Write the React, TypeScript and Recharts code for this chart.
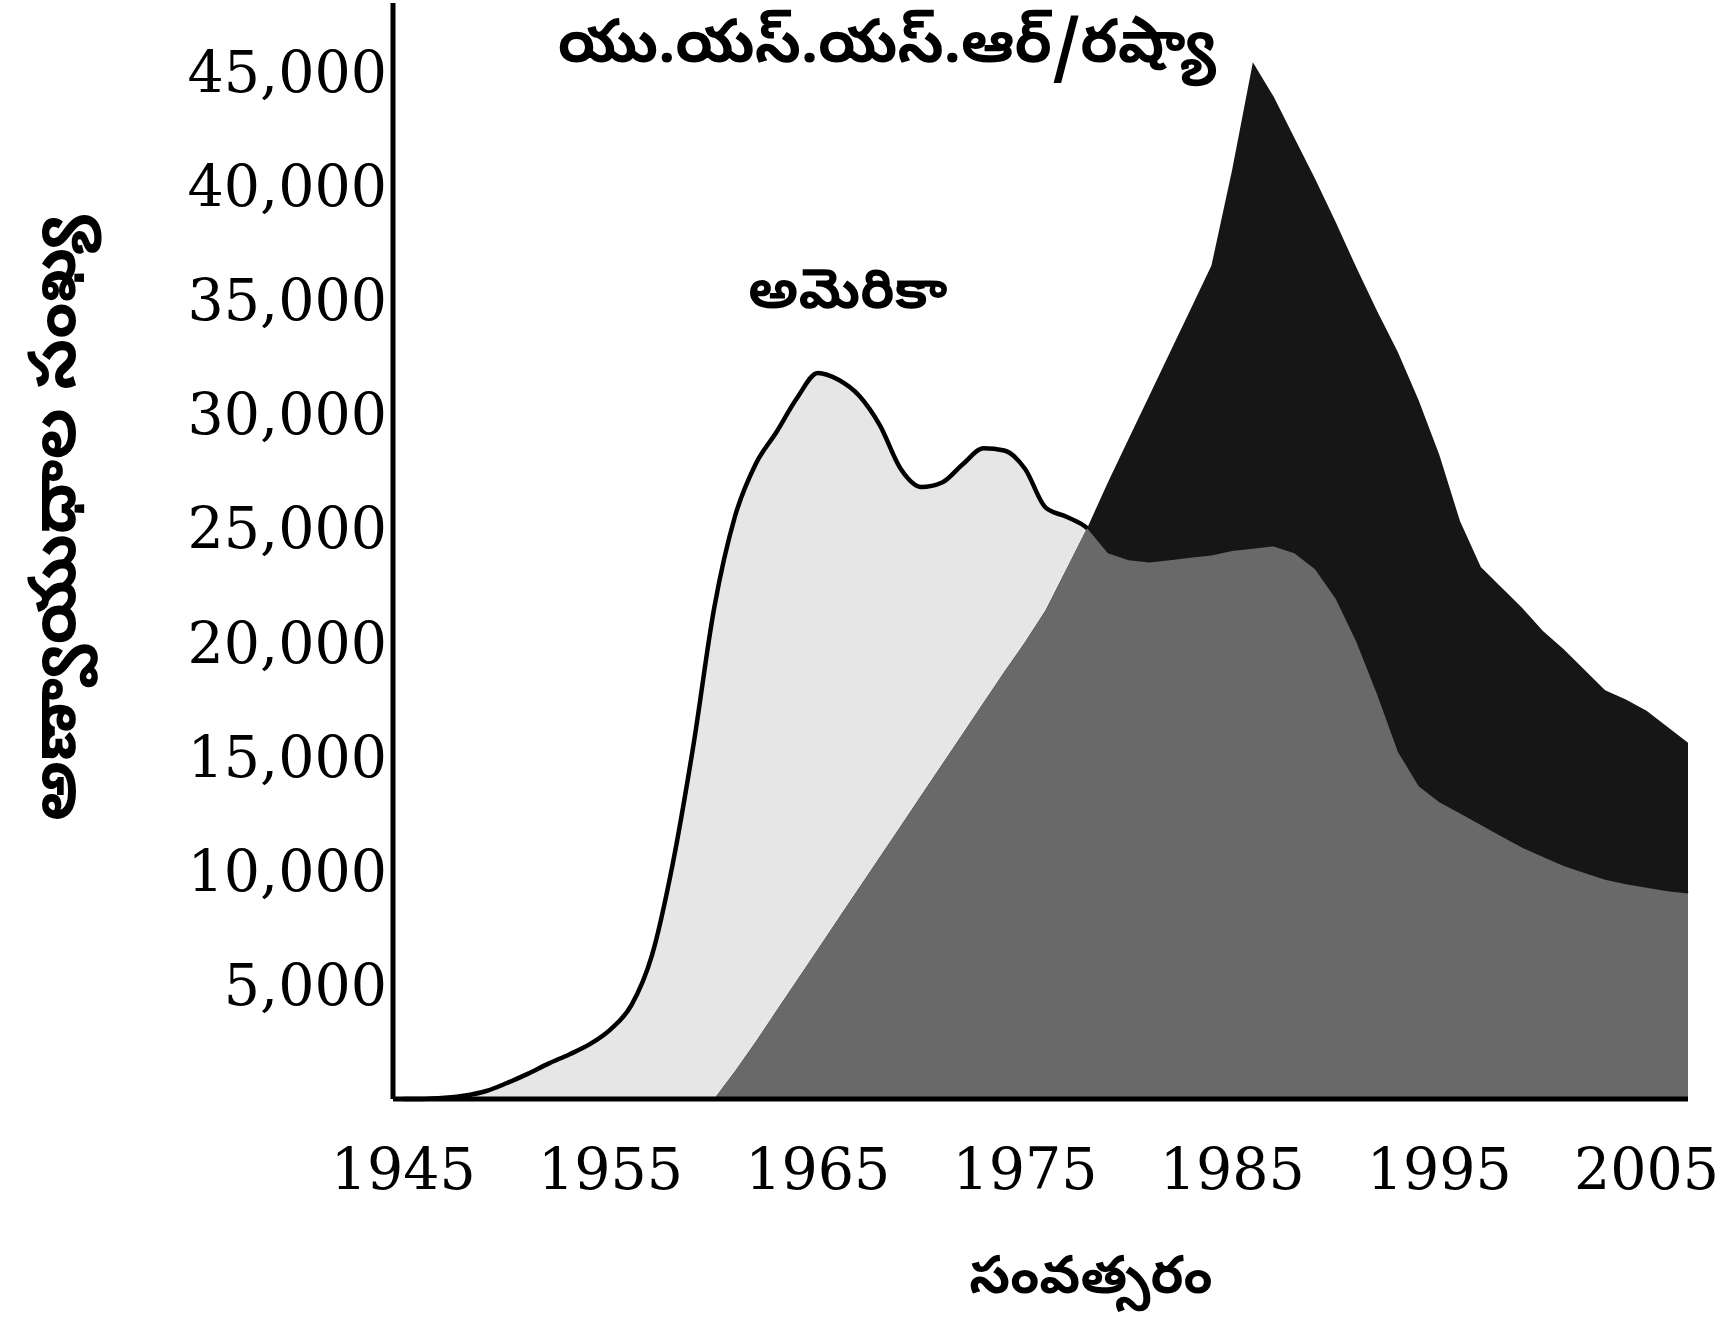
import React from 'react';
import { AreaChart, Area, XAxis, YAxis } from 'recharts';

// years on the x axis, one point per year
const years = [
  1945, 1946, 1947, 1948, 1949, 1950, 1951, 1952, 1953, 1954,
  1955, 1956, 1957, 1958, 1959, 1960, 1961, 1962, 1963, 1964,
  1965, 1966, 1967, 1968, 1969, 1970, 1971, 1972, 1973, 1974,
  1975, 1976, 1977, 1978, 1979, 1980, 1981, 1982, 1983, 1984,
  1985, 1986, 1987, 1988, 1989, 1990, 1991, 1992, 1993, 1994,
  1995, 1996, 1997, 1998, 1999, 2000, 2001, 2002, 2003, 2004,
  2005, 2006, 2007,
];

// అమెరికా (USA) warheads
const usa = [
  0, 0, 50, 150, 350, 700, 1100, 1550, 1950, 2400,
  3050, 4100, 6300, 10300, 15500, 21500, 25500, 27800, 29200, 30700,
  31800, 31500, 30800, 29500, 27600, 26800, 27000, 27800, 28500, 28400,
  27600, 25900, 25500, 25000, 23900, 23600, 23500, 23600, 23700, 23800,
  24000, 24100, 24200, 23900, 23200, 21900, 20000, 17700, 15200, 13700,
  13000, 12500, 12000, 11500, 11000, 10600, 10200, 9900, 9600, 9400,
  9250, 9100, 9000,
];

// USSR / Russia warheads
const ussr = [
  0, 0, 0, 0, 0, 0, 0, 0, 0, 0,
  0, 0, 0, 0, 0, 0, 1200, 2500, 3850, 5200,
  6550, 7900, 9250, 10600, 11950, 13300, 14650, 16000, 17350, 18700,
  20000, 21400, 23200, 25000, 27000, 28900, 30800, 32700, 34600, 36500,
  40700, 45400, 43900, 42100, 40300, 38400, 36400, 34500, 32700, 30600,
  28200, 25300, 23300, 22400, 21500, 20500, 19700, 18800, 17900, 17500,
  17000, 16300, 15600,
];

const xTicks = [1945, 1955, 1965, 1975, 1985, 1995, 2005];
const yTicks = [5000, 10000, 15000, 20000, 25000, 30000, 35000, 40000, 45000];

const ussrLabel = 'యు.యస్.యస్.ఆర్/రష్యా';
const usaLabel = 'అమెరికా';
const yTitle = 'అణ్వాయుధాల సంఖ్య';
const xTitle = 'సంవత్సరం';

const data = years.map((year, i) => ({
  year,
  usa: usa[i],
  ussr: ussr[i],
  both: Math.min(usa[i], ussr[i]),
}));

const teluguFont = "'Noto Sans Telugu', 'Noto Sans', sans-serif";
const numFont = "'DejaVu Serif', serif";

const App: React.FC = () => {
  return (
    <div
      style={{
        position: 'absolute',
        left: 0,
        top: 0,
        width: 1728,
        height: 1334,
        background: '#ffffff',
        fontFamily: numFont,
      }}
    >
      <AreaChart width={1728} height={1334} data={data} margin={{ top: 3, right: 40, bottom: 0, left: 0 }}>
        <XAxis
          dataKey="year"
          type="number"
          domain={[1944.5, 2007]}
          ticks={xTicks}
          interval={0}
          height={235}
          axisLine={{ stroke: '#000', strokeWidth: 5 }}
          tickLine={false}
          tickSize={0}
          tickMargin={50}
          tick={{ fill: '#000', fontSize: 57, fontFamily: numFont }}
        />
        <YAxis
          type="number"
          domain={[0, 48000]}
          ticks={yTicks}
          interval={0}
          width={393}
          axisLine={{ stroke: '#000', strokeWidth: 5 }}
          tickLine={false}
          tickSize={0}
          tickMargin={6}
          tick={{ fill: '#000', fontSize: 57, fontFamily: numFont }}
          tickFormatter={(v: number) => v.toLocaleString('en-US')}
        />
        <Area
          dataKey="usa"
          type="monotone"
          fill="#e6e6e6"
          fillOpacity={1}
          stroke="#000"
          strokeWidth={4.5}
          dot={false}
          activeDot={false}
          isAnimationActive={false}
        />
        <Area
          dataKey="ussr"
          type="linear"
          fill="#161616"
          fillOpacity={1}
          stroke="none"
          dot={false}
          activeDot={false}
          isAnimationActive={false}
        />
        <Area
          dataKey="both"
          type="linear"
          fill="#696969"
          fillOpacity={1}
          stroke="none"
          dot={false}
          activeDot={false}
          isAnimationActive={false}
        />
      </AreaChart>

      <div style={{ position: 'absolute', left: 887, top: 50, transform: 'translate(-50%, -50%)', fontFamily: teluguFont, fontSize: 60, fontWeight: 700, whiteSpace: 'nowrap' }}>
        {ussrLabel}
      </div>
      <div style={{ position: 'absolute', left: 848, top: 297, transform: 'translate(-50%, -50%)', fontFamily: teluguFont, fontSize: 55, fontWeight: 700, whiteSpace: 'nowrap' }}>
        {usaLabel}
      </div>
      <div style={{ position: 'absolute', left: 62, top: 518, transform: 'translate(-50%, -50%) rotate(-90deg)', fontFamily: teluguFont, fontSize: 66, fontWeight: 700, whiteSpace: 'nowrap' }}>
        {yTitle}
      </div>
      <div style={{ position: 'absolute', left: 1091, top: 1283, transform: 'translate(-50%, -50%)', fontFamily: teluguFont, fontSize: 53, fontWeight: 700, whiteSpace: 'nowrap' }}>
        {xTitle}
      </div>
    </div>
  );
};

export default App;
